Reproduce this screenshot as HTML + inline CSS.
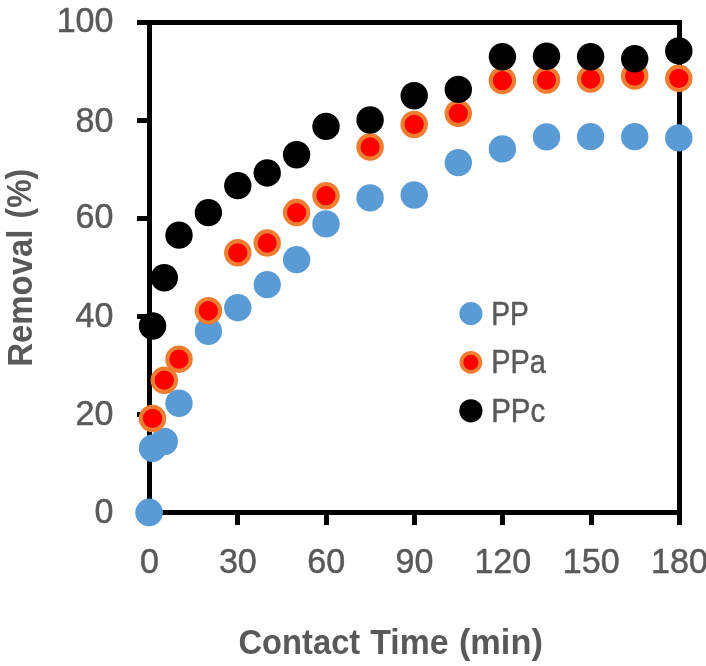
<!DOCTYPE html>
<html lang="en">
<head>
<meta charset="utf-8">
<title>Removal vs Contact Time</title>
<style>
html,body{margin:0;padding:0;background:#fff;}
body{width:706px;height:666px;overflow:hidden;}
svg{display:block;}
text{font-family:"Liberation Sans",sans-serif;fill:#595959;}
.b{font-weight:bold;}
</style>
</head>
<body>
<svg width="706" height="666" viewBox="0 0 706 666">
<rect x="0" y="0" width="706" height="666" fill="#ffffff"/>
<g fill="#000000" shape-rendering="crispEdges">
<rect x="147" y="20" width="5" height="495"/>
<rect x="677" y="20" width="5" height="505"/>
<rect x="137" y="20" width="545" height="5"/>
<rect x="147" y="510" width="535" height="5"/>
<rect x="137" y="118" width="10" height="5"/>
<rect x="137" y="216" width="10" height="5"/>
<rect x="137" y="314" width="10" height="5"/>
<rect x="137" y="412" width="10" height="5"/>
<rect x="137" y="510" width="10" height="5"/>
<rect x="147.00" y="515" width="5" height="10"/>
<rect x="235.33" y="515" width="5" height="10"/>
<rect x="323.67" y="515" width="5" height="10"/>
<rect x="412.00" y="515" width="5" height="10"/>
<rect x="500.33" y="515" width="5" height="10"/>
<rect x="588.67" y="515" width="5" height="10"/>
</g>
<g font-size="34.7" text-anchor="end" stroke="#595959" stroke-width="0.5">
<text transform="translate(113.5 32.10) scale(0.982 1)">100</text>
<text transform="translate(113.5 131.50) scale(0.982 1)">80</text>
<text transform="translate(113.5 228.40) scale(0.982 1)">60</text>
<text transform="translate(113.5 326.80) scale(0.982 1)">40</text>
<text transform="translate(113.5 424.95) scale(0.982 1)">20</text>
<text transform="translate(113.5 522.95) scale(0.982 1)">0</text>
</g>
<g font-size="34.7" text-anchor="middle" stroke="#595959" stroke-width="0.5">
<text transform="translate(149.50 573) scale(0.982 1)">0</text>
<text transform="translate(237.83 573) scale(0.982 1)">30</text>
<text transform="translate(326.17 573) scale(0.982 1)">60</text>
<text transform="translate(414.50 573) scale(0.982 1)">90</text>
<text transform="translate(502.83 573) scale(0.982 1)">120</text>
<text transform="translate(591.17 573) scale(0.982 1)">150</text>
<text transform="translate(679.50 573) scale(0.982 1)">180</text>
</g>
<g class="b" font-size="35.2">
<text transform="translate(238.5 654.3) scale(0.929 1)">Contact</text>
<text transform="translate(370.3 654.3) scale(0.961 1)">Time</text>
<text transform="translate(458.9 654.3) scale(0.976 1)">(min)</text>
</g>
<g class="b" font-size="34.8">
<text transform="translate(31.7 366.8) rotate(-90) scale(0.947 1)">Removal</text>
<text transform="translate(30.8 218.4) rotate(-90) scale(0.915 1)">(%)</text>
</g>
<g fill="#5b9bd5">
<circle cx="149.10" cy="512.40" r="13.8"/>
<circle cx="152.54" cy="448.31" r="13.7"/>
<circle cx="164.30" cy="441.45" r="13.7"/>
<circle cx="179.00" cy="403.23" r="13.7"/>
<circle cx="208.40" cy="331.20" r="13.7"/>
<circle cx="237.80" cy="307.68" r="13.7"/>
<circle cx="267.20" cy="284.65" r="13.7"/>
<circle cx="296.60" cy="259.66" r="13.7"/>
<circle cx="326.00" cy="223.89" r="13.7"/>
<circle cx="370.10" cy="197.92" r="13.7"/>
<circle cx="414.20" cy="194.98" r="13.7"/>
<circle cx="458.30" cy="162.64" r="13.7"/>
<circle cx="502.40" cy="148.92" r="13.7"/>
<circle cx="546.50" cy="136.91" r="13.7"/>
<circle cx="590.60" cy="136.67" r="13.7"/>
<circle cx="634.70" cy="136.67" r="13.7"/>
<circle cx="678.80" cy="137.89" r="13.7"/>
</g>
<g fill="#ff0000" stroke="#ed7d31" stroke-width="4.1">
<circle cx="152.54" cy="418.42" r="11.7"/>
<circle cx="164.30" cy="380.20" r="11.7"/>
<circle cx="179.00" cy="359.13" r="11.7"/>
<circle cx="208.40" cy="310.77" r="11.7"/>
<circle cx="237.80" cy="252.80" r="11.7"/>
<circle cx="267.20" cy="243.00" r="11.7"/>
<circle cx="296.60" cy="212.62" r="11.7"/>
<circle cx="326.00" cy="195.71" r="11.7"/>
<circle cx="370.10" cy="146.96" r="11.7"/>
<circle cx="414.20" cy="124.42" r="11.7"/>
<circle cx="458.30" cy="113.39" r="11.7"/>
<circle cx="502.40" cy="80.56" r="11.7"/>
<circle cx="546.50" cy="80.07" r="11.7"/>
<circle cx="590.60" cy="79.05" r="11.7"/>
<circle cx="634.70" cy="76.06" r="11.7"/>
<circle cx="678.80" cy="78.36" r="11.7"/>
</g>
<g fill="#000000">
<circle cx="152.54" cy="326.01" r="13.7"/>
<circle cx="164.30" cy="277.79" r="13.7"/>
<circle cx="179.00" cy="235.16" r="13.7"/>
<circle cx="208.40" cy="212.62" r="13.7"/>
<circle cx="237.80" cy="185.67" r="13.7"/>
<circle cx="267.20" cy="172.93" r="13.7"/>
<circle cx="296.60" cy="154.80" r="13.7"/>
<circle cx="326.00" cy="126.38" r="13.7"/>
<circle cx="370.10" cy="120.01" r="13.7"/>
<circle cx="414.20" cy="95.71" r="13.7"/>
<circle cx="458.30" cy="89.38" r="13.7"/>
<circle cx="502.40" cy="56.80" r="13.7"/>
<circle cx="546.50" cy="56.31" r="13.7"/>
<circle cx="590.60" cy="56.80" r="13.7"/>
<circle cx="634.70" cy="58.76" r="13.7"/>
<circle cx="678.80" cy="50.92" r="13.7"/>
</g>
<circle cx="470.9" cy="313.6" r="11.6" fill="#5b9bd5"/>
<circle cx="470.9" cy="362.3" r="9.5" fill="#ff0000" stroke="#ed7d31" stroke-width="3.8"/>
<circle cx="470.9" cy="410.8" r="11.6" fill="#000000"/>
<g font-size="33" stroke="#595959" stroke-width="0.5">
<text transform="translate(491.2 324.7) scale(0.853 1)">PP</text>
<text transform="translate(491.2 373.3) scale(0.875 1)">PPa</text>
<text transform="translate(491.2 421.9) scale(0.892 1)">PPc</text>
</g>
</svg>
</body>
</html>
